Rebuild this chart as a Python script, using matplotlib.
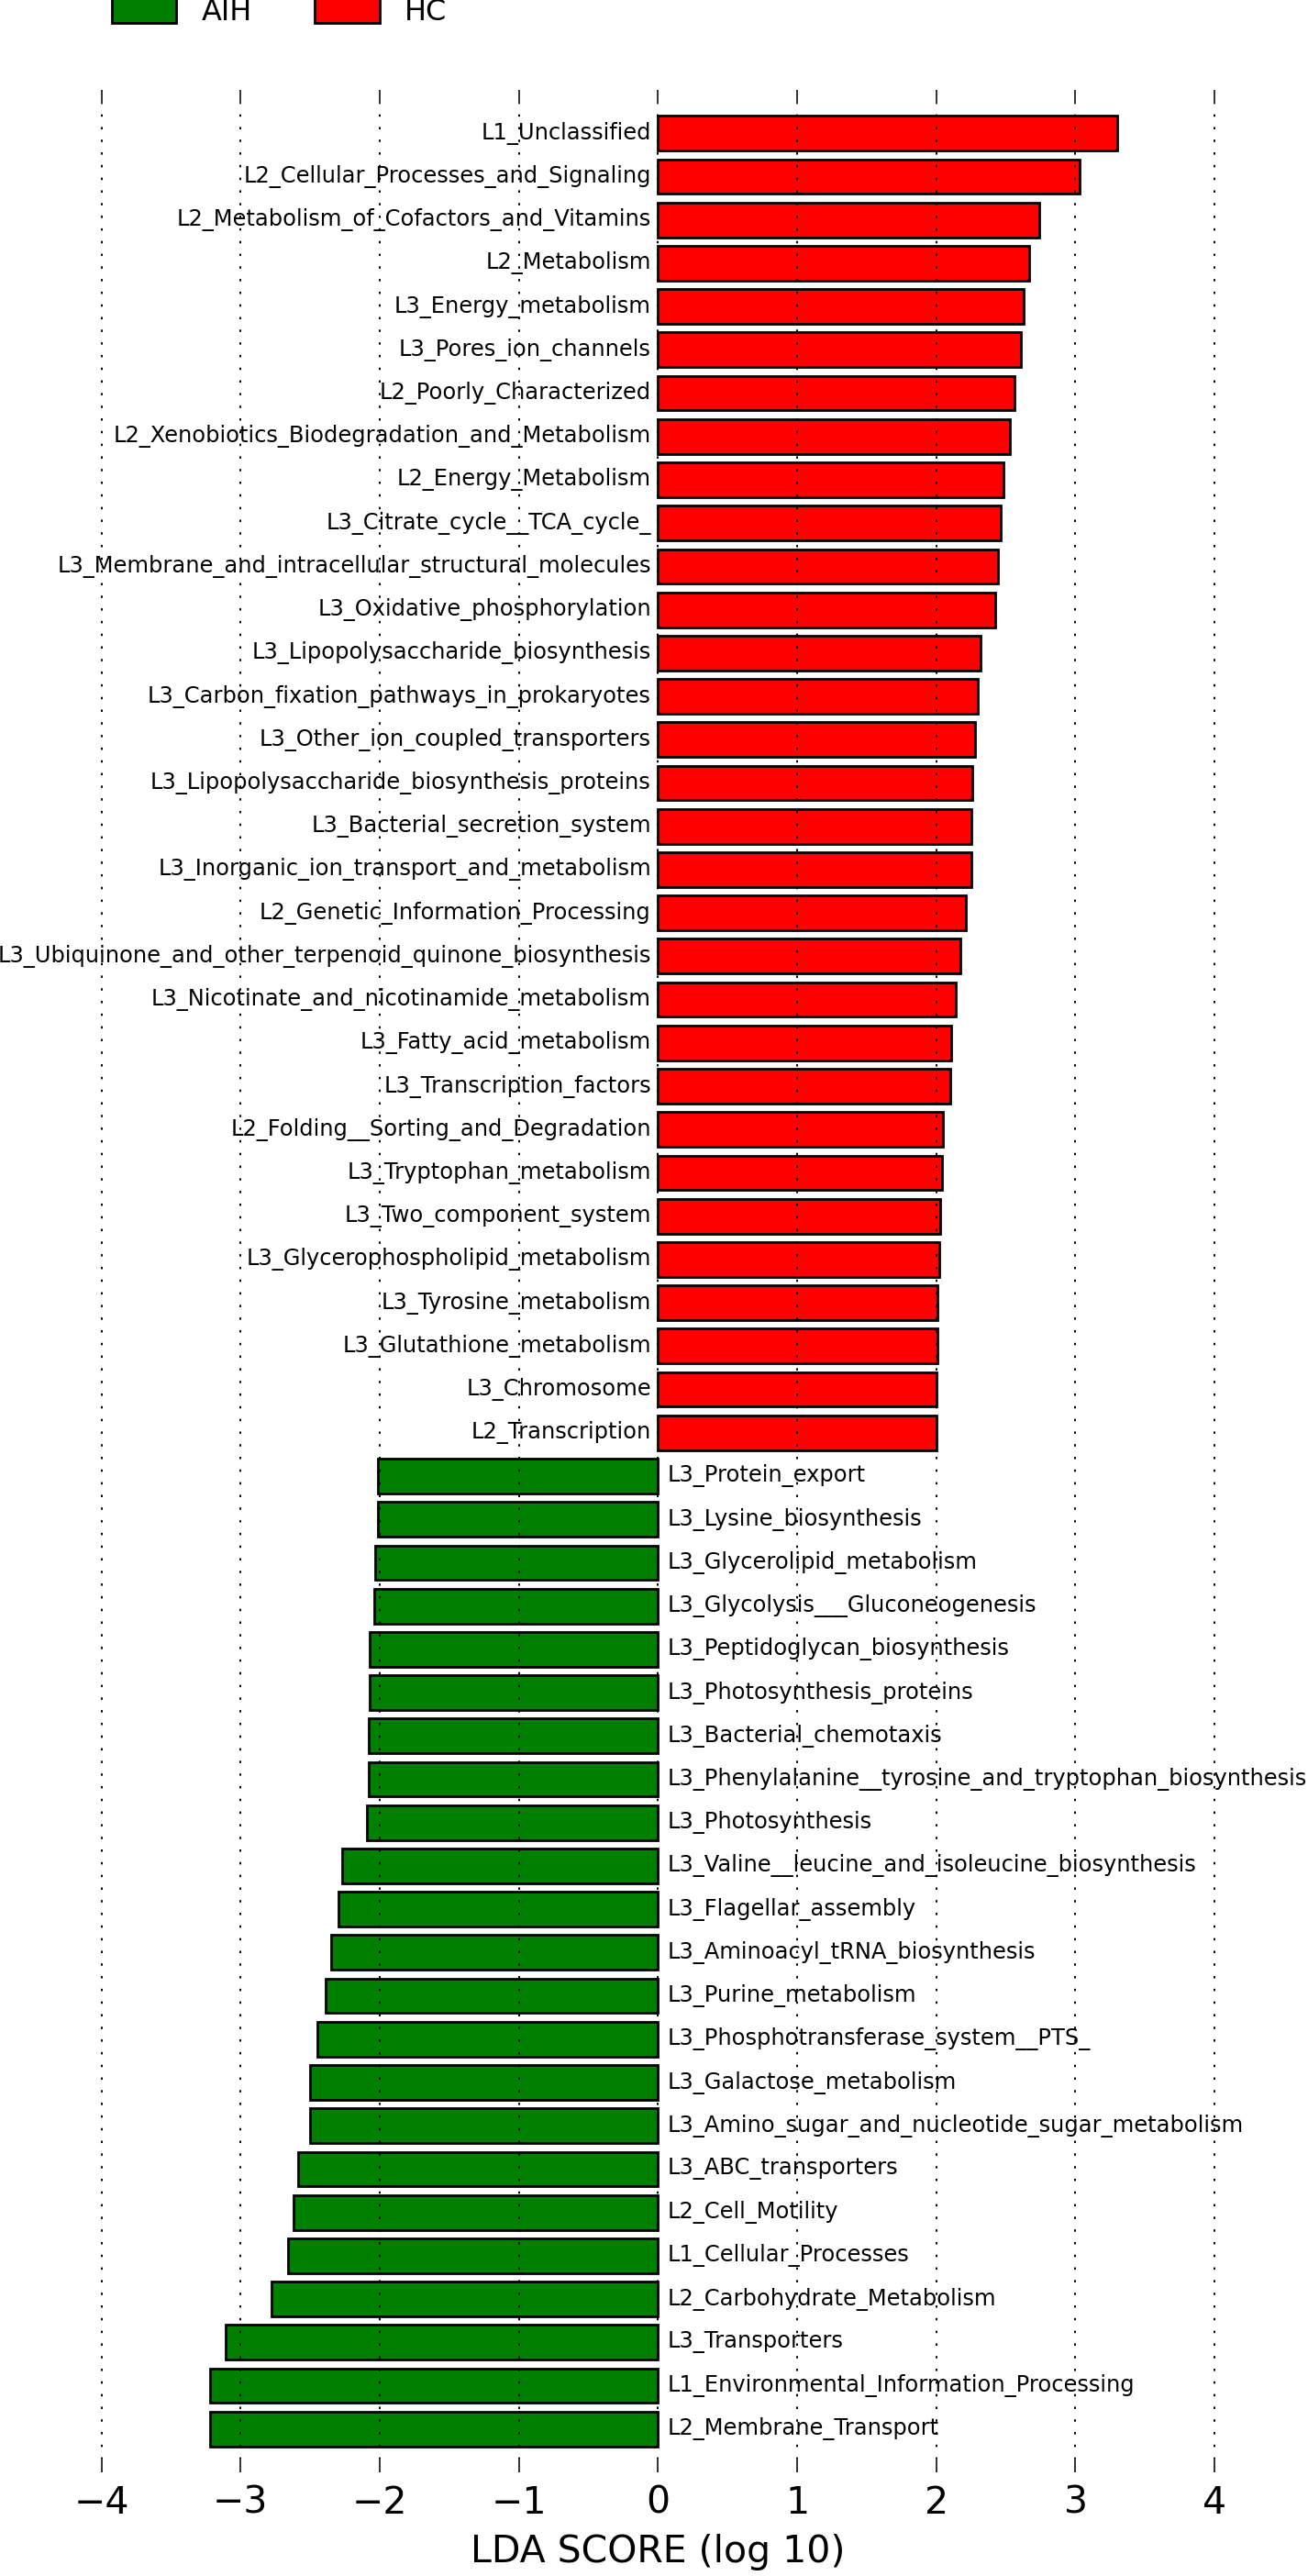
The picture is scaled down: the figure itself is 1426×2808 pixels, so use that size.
import matplotlib
matplotlib.use("Agg")
import matplotlib.pyplot as plt
from matplotlib.patches import Patch
import numpy as np

# ---- data (top to bottom) ----
hc_names = [
    "L1_Unclassified", "L2_Cellular_Processes_and_Signaling",
    "L2_Metabolism_of_Cofactors_and_Vitamins", "L2_Metabolism",
    "L3_Energy_metabolism", "L3_Pores_ion_channels", "L2_Poorly_Characterized",
    "L2_Xenobiotics_Biodegradation_and_Metabolism", "L2_Energy_Metabolism",
    "L3_Citrate_cycle__TCA_cycle_", "L3_Membrane_and_intracellular_structural_molecules",
    "L3_Oxidative_phosphorylation", "L3_Lipopolysaccharide_biosynthesis",
    "L3_Carbon_fixation_pathways_in_prokaryotes", "L3_Other_ion_coupled_transporters",
    "L3_Lipopolysaccharide_biosynthesis_proteins", "L3_Bacterial_secretion_system",
    "L3_Inorganic_ion_transport_and_metabolism", "L2_Genetic_Information_Processing",
    "L3_Ubiquinone_and_other_terpenoid_quinone_biosynthesis",
    "L3_Nicotinate_and_nicotinamide_metabolism", "L3_Fatty_acid_metabolism",
    "L3_Transcription_factors", "L2_Folding__Sorting_and_Degradation",
    "L3_Tryptophan_metabolism", "L3_Two_component_system",
    "L3_Glycerophospholipid_metabolism", "L3_Tyrosine_metabolism",
    "L3_Glutathione_metabolism", "L3_Chromosome", "L2_Transcription",
]
hc_values = [3.30, 3.03, 2.74, 2.67, 2.63, 2.61, 2.56, 2.53, 2.48, 2.46, 2.44,
             2.42, 2.32, 2.30, 2.28, 2.26, 2.25, 2.25, 2.21, 2.17, 2.14, 2.11,
             2.10, 2.05, 2.04, 2.03, 2.02, 2.01, 2.01, 2.00, 2.00]

aih_names = [
    "L3_Protein_export", "L3_Lysine_biosynthesis", "L3_Glycerolipid_metabolism",
    "L3_Glycolysis___Gluconeogenesis", "L3_Peptidoglycan_biosynthesis",
    "L3_Photosynthesis_proteins", "L3_Bacterial_chemotaxis",
    "L3_Phenylalanine__tyrosine_and_tryptophan_biosynthesis", "L3_Photosynthesis",
    "L3_Valine__leucine_and_isoleucine_biosynthesis", "L3_Flagellar_assembly",
    "L3_Aminoacyl_tRNA_biosynthesis", "L3_Purine_metabolism",
    "L3_Phosphotransferase_system__PTS_", "L3_Galactose_metabolism",
    "L3_Amino_sugar_and_nucleotide_sugar_metabolism", "L3_ABC_transporters",
    "L2_Cell_Motility", "L1_Cellular_Processes", "L2_Carbohydrate_Metabolism",
    "L3_Transporters", "L1_Environmental_Information_Processing",
    "L2_Membrane_Transport",
]
aih_values = [-2.01, -2.015, -2.03, -2.04, -2.07, -2.07, -2.08, -2.08, -2.09,
              -2.27, -2.30, -2.35, -2.39, -2.45, -2.50, -2.50, -2.59, -2.62,
              -2.66, -2.78, -3.11, -3.22, -3.22]

groups = ["AIH", "HC"]
group_colors = {"AIH": "#008000", "HC": "#ff0000"}
xticks = [-4, -3, -2, -1, 0, 1, 2, 3, 4]
xlabel = "LDA SCORE (log 10)"

# ---- figure ----
W, H, DPI = 1426, 2808, 100
fig = plt.figure(figsize=(W / DPI, H / DPI), dpi=DPI)
ax_top, ax_bot = 98, 2695
ax = fig.add_axes([19.6 / W, 1 - ax_bot / H, 1395.6 / W, (ax_bot - ax_top) / H])

names = hc_names + aih_names
vals = hc_values + aih_values
cols = [group_colors["HC"]] * len(hc_names) + [group_colors["AIH"]] * len(aih_names)
n = len(names)
pos = np.arange(n)[::-1]

ax.barh(pos, vals, height=0.8, color=cols, edgecolor="black", linewidth=2.0,
        align="center", zorder=2)

for p, v, nm in zip(pos, vals, names):
    if v > 0:
        ax.text(-0.05, p, nm, ha="right", va="center", fontsize=17.4, zorder=4)
    else:
        ax.text(0.07, p, nm, ha="left", va="center", fontsize=17.4, zorder=4)

ax.set_xlim(-4.6, 4.6)
ax.set_ylim(-1, n)
ax.set_yticks([])
ax.set_xticks(xticks)
ax.set_xticklabels([("\u2212%d" % -t) if t < 0 else str(t) for t in xticks])
ax.tick_params(axis="x", direction="in", length=11, width=1.4, color="#333333",
               labelsize=29.5, pad=10, top=True, bottom=True)
for s in ax.spines.values():
    s.set_visible(False)
ax.xaxis.grid(True, color="black", linewidth=1.4, linestyle=(0, (1.3, 5.8)), zorder=3)
ax.set_axisbelow(False)

ax.set_xlabel(xlabel, fontsize=29.5, va="center")
ax.xaxis.set_label_coords(0.5, -87 / (ax_bot - ax_top))

handles = [Patch(facecolor=group_colors[g], edgecolor="black", linewidth=2.0) for g in groups]
fig.legend(handles, groups, ncol=2, frameon=False, loc="upper left",
           bbox_to_anchor=(122 / W, 1 + 2 / H), bbox_transform=fig.transFigure,
           fontsize=23, handlelength=2.2, handleheight=0.9, handletextpad=0.85,
           columnspacing=2.15, borderpad=0, borderaxespad=0)

fig.savefig("out.png", dpi=DPI)
